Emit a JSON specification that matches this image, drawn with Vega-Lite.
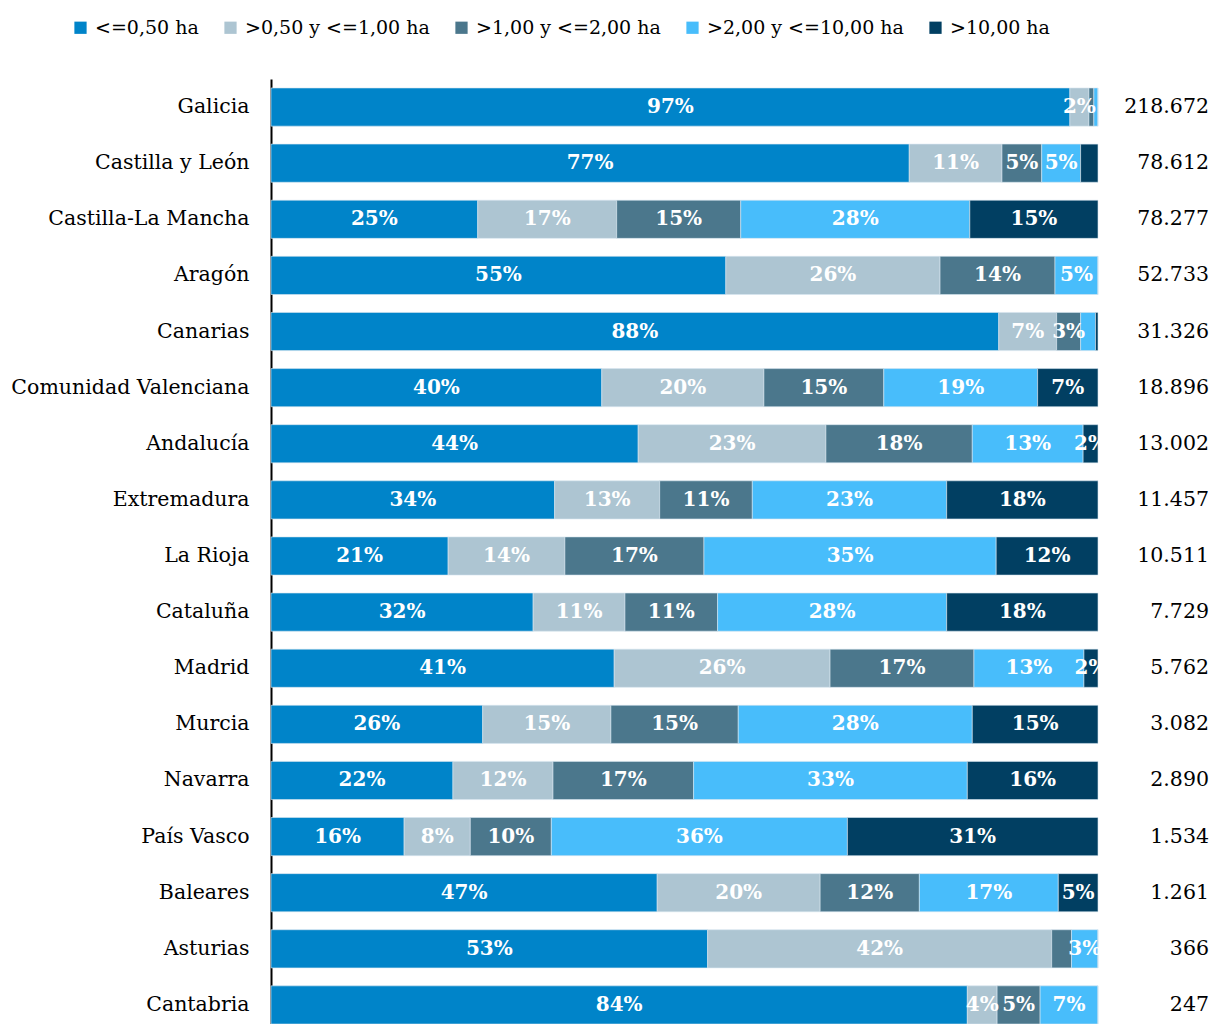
{
  "$schema": "https://vega.github.io/schema/vega-lite/v6.json",
  "autosize": {"type": "none"},
  "width": 827,
  "height": 954,
  "padding": {"left": 271, "top": 79, "right": 119, "bottom": 0},
  "background": "#ffffff",
  "config": {"view": {"stroke": null}, "font": "DejaVu Serif"},
  "datasets": {
    "shares": [
      {"r":"Galicia","k":1,"c":"<=0,50 ha","v":96.6,"l":"97%"},
      {"r":"Galicia","k":2,"c":">0,50 y <=1,00 ha","v":2.3,"l":"2%"},
      {"r":"Galicia","k":3,"c":">1,00 y <=2,00 ha","v":0.6,"l":""},
      {"r":"Galicia","k":4,"c":">2,00 y <=10,00 ha","v":0.5,"l":""},
      {"r":"Galicia","k":5,"c":">10,00 ha","v":0.0,"l":""},
      {"r":"Castilla y León","k":1,"c":"<=0,50 ha","v":77.1,"l":"77%"},
      {"r":"Castilla y León","k":2,"c":">0,50 y <=1,00 ha","v":11.2,"l":"11%"},
      {"r":"Castilla y León","k":3,"c":">1,00 y <=2,00 ha","v":4.8,"l":"5%"},
      {"r":"Castilla y León","k":4,"c":">2,00 y <=10,00 ha","v":4.7,"l":"5%"},
      {"r":"Castilla y León","k":5,"c":">10,00 ha","v":2.1,"l":""},
      {"r":"Castilla-La Mancha","k":1,"c":"<=0,50 ha","v":25.0,"l":"25%"},
      {"r":"Castilla-La Mancha","k":2,"c":">0,50 y <=1,00 ha","v":16.8,"l":"17%"},
      {"r":"Castilla-La Mancha","k":3,"c":">1,00 y <=2,00 ha","v":15.0,"l":"15%"},
      {"r":"Castilla-La Mancha","k":4,"c":">2,00 y <=10,00 ha","v":27.7,"l":"28%"},
      {"r":"Castilla-La Mancha","k":5,"c":">10,00 ha","v":15.5,"l":"15%"},
      {"r":"Aragón","k":1,"c":"<=0,50 ha","v":55.0,"l":"55%"},
      {"r":"Aragón","k":2,"c":">0,50 y <=1,00 ha","v":25.9,"l":"26%"},
      {"r":"Aragón","k":3,"c":">1,00 y <=2,00 ha","v":13.9,"l":"14%"},
      {"r":"Aragón","k":4,"c":">2,00 y <=10,00 ha","v":5.2,"l":"5%"},
      {"r":"Aragón","k":5,"c":">10,00 ha","v":0.0,"l":""},
      {"r":"Canarias","k":1,"c":"<=0,50 ha","v":88.0,"l":"88%"},
      {"r":"Canarias","k":2,"c":">0,50 y <=1,00 ha","v":7.0,"l":"7%"},
      {"r":"Canarias","k":3,"c":">1,00 y <=2,00 ha","v":2.9,"l":"3%"},
      {"r":"Canarias","k":4,"c":">2,00 y <=10,00 ha","v":1.8,"l":""},
      {"r":"Canarias","k":5,"c":">10,00 ha","v":0.3,"l":""},
      {"r":"Comunidad Valenciana","k":1,"c":"<=0,50 ha","v":40.0,"l":"40%"},
      {"r":"Comunidad Valenciana","k":2,"c":">0,50 y <=1,00 ha","v":19.6,"l":"20%"},
      {"r":"Comunidad Valenciana","k":3,"c":">1,00 y <=2,00 ha","v":14.5,"l":"15%"},
      {"r":"Comunidad Valenciana","k":4,"c":">2,00 y <=10,00 ha","v":18.6,"l":"19%"},
      {"r":"Comunidad Valenciana","k":5,"c":">10,00 ha","v":7.3,"l":"7%"},
      {"r":"Andalucía","k":1,"c":"<=0,50 ha","v":44.4,"l":"44%"},
      {"r":"Andalucía","k":2,"c":">0,50 y <=1,00 ha","v":22.7,"l":"23%"},
      {"r":"Andalucía","k":3,"c":">1,00 y <=2,00 ha","v":17.7,"l":"18%"},
      {"r":"Andalucía","k":4,"c":">2,00 y <=10,00 ha","v":13.4,"l":"13%"},
      {"r":"Andalucía","k":5,"c":">10,00 ha","v":1.8,"l":"2%"},
      {"r":"Extremadura","k":1,"c":"<=0,50 ha","v":34.3,"l":"34%"},
      {"r":"Extremadura","k":2,"c":">0,50 y <=1,00 ha","v":12.7,"l":"13%"},
      {"r":"Extremadura","k":3,"c":">1,00 y <=2,00 ha","v":11.2,"l":"11%"},
      {"r":"Extremadura","k":4,"c":">2,00 y <=10,00 ha","v":23.5,"l":"23%"},
      {"r":"Extremadura","k":5,"c":">10,00 ha","v":18.3,"l":"18%"},
      {"r":"La Rioja","k":1,"c":"<=0,50 ha","v":21.4,"l":"21%"},
      {"r":"La Rioja","k":2,"c":">0,50 y <=1,00 ha","v":14.1,"l":"14%"},
      {"r":"La Rioja","k":3,"c":">1,00 y <=2,00 ha","v":16.8,"l":"17%"},
      {"r":"La Rioja","k":4,"c":">2,00 y <=10,00 ha","v":35.3,"l":"35%"},
      {"r":"La Rioja","k":5,"c":">10,00 ha","v":12.3,"l":"12%"},
      {"r":"Cataluña","k":1,"c":"<=0,50 ha","v":31.7,"l":"32%"},
      {"r":"Cataluña","k":2,"c":">0,50 y <=1,00 ha","v":11.1,"l":"11%"},
      {"r":"Cataluña","k":3,"c":">1,00 y <=2,00 ha","v":11.2,"l":"11%"},
      {"r":"Cataluña","k":4,"c":">2,00 y <=10,00 ha","v":27.7,"l":"28%"},
      {"r":"Cataluña","k":5,"c":">10,00 ha","v":18.3,"l":"18%"},
      {"r":"Madrid","k":1,"c":"<=0,50 ha","v":41.5,"l":"41%"},
      {"r":"Madrid","k":2,"c":">0,50 y <=1,00 ha","v":26.1,"l":"26%"},
      {"r":"Madrid","k":3,"c":">1,00 y <=2,00 ha","v":17.4,"l":"17%"},
      {"r":"Madrid","k":4,"c":">2,00 y <=10,00 ha","v":13.3,"l":"13%"},
      {"r":"Madrid","k":5,"c":">10,00 ha","v":1.7,"l":"2%"},
      {"r":"Murcia","k":1,"c":"<=0,50 ha","v":25.6,"l":"26%"},
      {"r":"Murcia","k":2,"c":">0,50 y <=1,00 ha","v":15.5,"l":"15%"},
      {"r":"Murcia","k":3,"c":">1,00 y <=2,00 ha","v":15.4,"l":"15%"},
      {"r":"Murcia","k":4,"c":">2,00 y <=10,00 ha","v":28.3,"l":"28%"},
      {"r":"Murcia","k":5,"c":">10,00 ha","v":15.2,"l":"15%"},
      {"r":"Navarra","k":1,"c":"<=0,50 ha","v":22.0,"l":"22%"},
      {"r":"Navarra","k":2,"c":">0,50 y <=1,00 ha","v":12.1,"l":"12%"},
      {"r":"Navarra","k":3,"c":">1,00 y <=2,00 ha","v":17.0,"l":"17%"},
      {"r":"Navarra","k":4,"c":">2,00 y <=10,00 ha","v":33.1,"l":"33%"},
      {"r":"Navarra","k":5,"c":">10,00 ha","v":15.8,"l":"16%"},
      {"r":"País Vasco","k":1,"c":"<=0,50 ha","v":16.1,"l":"16%"},
      {"r":"País Vasco","k":2,"c":">0,50 y <=1,00 ha","v":8.0,"l":"8%"},
      {"r":"País Vasco","k":3,"c":">1,00 y <=2,00 ha","v":9.8,"l":"10%"},
      {"r":"País Vasco","k":4,"c":">2,00 y <=10,00 ha","v":35.8,"l":"36%"},
      {"r":"País Vasco","k":5,"c":">10,00 ha","v":30.3,"l":"31%"},
      {"r":"Baleares","k":1,"c":"<=0,50 ha","v":46.7,"l":"47%"},
      {"r":"Baleares","k":2,"c":">0,50 y <=1,00 ha","v":19.7,"l":"20%"},
      {"r":"Baleares","k":3,"c":">1,00 y <=2,00 ha","v":12.0,"l":"12%"},
      {"r":"Baleares","k":4,"c":">2,00 y <=10,00 ha","v":16.8,"l":"17%"},
      {"r":"Baleares","k":5,"c":">10,00 ha","v":4.8,"l":"5%"},
      {"r":"Asturias","k":1,"c":"<=0,50 ha","v":52.8,"l":"53%"},
      {"r":"Asturias","k":2,"c":">0,50 y <=1,00 ha","v":41.6,"l":"42%"},
      {"r":"Asturias","k":3,"c":">1,00 y <=2,00 ha","v":2.4,"l":""},
      {"r":"Asturias","k":4,"c":">2,00 y <=10,00 ha","v":3.2,"l":"3%"},
      {"r":"Asturias","k":5,"c":">10,00 ha","v":0.0,"l":""},
      {"r":"Cantabria","k":1,"c":"<=0,50 ha","v":84.2,"l":"84%"},
      {"r":"Cantabria","k":2,"c":">0,50 y <=1,00 ha","v":3.6,"l":"4%"},
      {"r":"Cantabria","k":3,"c":">1,00 y <=2,00 ha","v":5.2,"l":"5%"},
      {"r":"Cantabria","k":4,"c":">2,00 y <=10,00 ha","v":7.0,"l":"7%"},
      {"r":"Cantabria","k":5,"c":">10,00 ha","v":0.0,"l":""}
    ],
    "totals": [
      {"r":"Galicia","t":"218.672"},
      {"r":"Castilla y León","t":"78.612"},
      {"r":"Castilla-La Mancha","t":"78.277"},
      {"r":"Aragón","t":"52.733"},
      {"r":"Canarias","t":"31.326"},
      {"r":"Comunidad Valenciana","t":"18.896"},
      {"r":"Andalucía","t":"13.002"},
      {"r":"Extremadura","t":"11.457"},
      {"r":"La Rioja","t":"10.511"},
      {"r":"Cataluña","t":"7.729"},
      {"r":"Madrid","t":"5.762"},
      {"r":"Murcia","t":"3.082"},
      {"r":"Navarra","t":"2.890"},
      {"r":"País Vasco","t":"1.534"},
      {"r":"Baleares","t":"1.261"},
      {"r":"Asturias","t":"366"},
      {"r":"Cantabria","t":"247"}
    ]
  },
  "layer": [
    {
      "data": {"name": "shares"},
      "transform": [
        {"stack": "v", "groupby": ["r"], "sort": [{"field": "k", "order": "ascending"}], "offset": "normalize", "as": ["v0", "v1"]}
      ],
      "mark": {"type": "bar", "stroke": "#d6e6f0", "strokeWidth": 0.6},
      "encoding": {
        "y": {"field": "r", "type": "nominal", "sort": null,
          "scale": {"paddingInner": 0.32, "paddingOuter": 0.16},
          "axis": {"title": null, "domainColor": "#000000", "domainWidth": 2, "ticks": false,
            "labelFont": "DejaVu Serif", "labelFontSize": 20.5, "labelColor": "#000000", "labelPadding": 22, "labelLimit": 300}},
        "x": {"field": "v0", "type": "quantitative", "scale": {"domain": [0, 1], "nice": false}, "axis": null},
        "x2": {"field": "v1"},
        "color": {"field": "c", "type": "nominal",
          "scale": {"domain": ["<=0,50 ha", ">0,50 y <=1,00 ha", ">1,00 y <=2,00 ha", ">2,00 y <=10,00 ha", ">10,00 ha"],
                    "range": ["#0084C9", "#ADC5D2", "#4B778C", "#48BDFB", "#013F62"]},
          "legend": {"title": null, "orient": "none", "direction": "horizontal", "legendX": -200, "legendY": -61,
            "symbolType": "square", "symbolSize": 150, "symbolStrokeWidth": 0,
            "labelFont": "DejaVu Serif", "labelFontSize": 19, "labelColor": "#000000", "labelOffset": 5,
            "columnPadding": 22, "labelLimit": 300}}
      }
    },
    {
      "data": {"name": "shares"},
      "transform": [
        {"stack": "v", "groupby": ["r"], "sort": [{"field": "k", "order": "ascending"}], "offset": "normalize", "as": ["v0", "v1"]},
        {"filter": "datum.l != ''"},
        {"calculate": "(datum.v0 + datum.v1) / 2", "as": "mid"}
      ],
      "mark": {"type": "text", "font": "DejaVu Serif", "fontWeight": "bold", "fontSize": 20, "color": "#ffffff", "align": "center", "baseline": "middle"},
      "encoding": {
        "y": {"field": "r", "type": "nominal", "sort": null},
        "x": {"field": "mid", "type": "quantitative"},
        "text": {"field": "l"}
      }
    },
    {
      "data": {"name": "totals"},
      "mark": {"type": "text", "font": "DejaVu Serif", "fontSize": 20.5, "color": "#000000", "align": "right", "baseline": "middle", "dx": 111},
      "encoding": {
        "y": {"field": "r", "type": "nominal", "sort": null},
        "x": {"datum": 1, "type": "quantitative"},
        "text": {"field": "t"}
      }
    }
  ]
}
